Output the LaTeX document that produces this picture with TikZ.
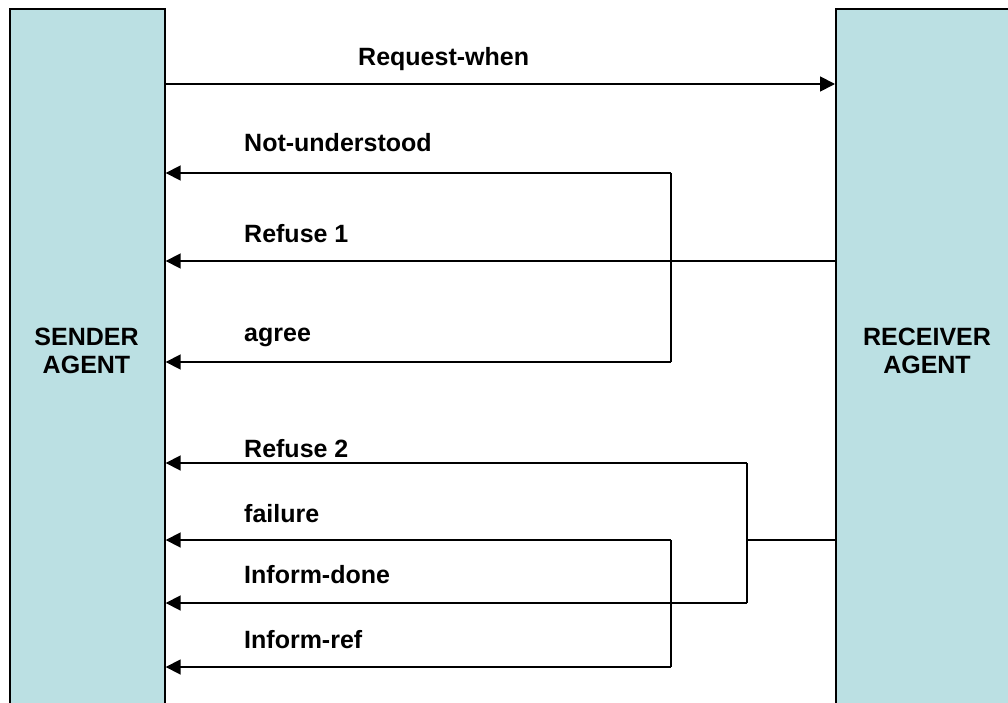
\documentclass[tikz,border=0pt]{standalone}
\usepackage{fontspec}
\setmainfont{Liberation Sans}
\usetikzlibrary{arrows.meta}
\definecolor{agentfill}{RGB}{187,224,227}
\begin{document}
\begin{tikzpicture}[x=1pt,y=-1pt,
  agent/.style={draw=black,fill=agentfill,line width=1.7pt,rectangle,inner sep=0pt,anchor=north west},
  agenttext/.style={font=\fontsize{25}{28}\selectfont\bfseries,align=center,inner sep=0pt},
  lbl/.style={font=\fontsize{25}{30}\selectfont\bfseries,anchor=base west,inner sep=0pt},
  wire/.style={line width=1.8pt,draw=black},
  msg/.style={wire,-{Triangle[length=15pt,width=15pt]}}]
\useasboundingbox (0,0) rectangle (1008,703);
\clip (0,0) rectangle (1008,703);
\node[agent,minimum width=155pt,minimum height=760pt] (S) at (9,8) {};
\node[agent,minimum width=185pt,minimum height=760pt] (R) at (835,8) {};
\node[agenttext] (Slbl) at (86.5,351) {SENDER\\AGENT};
\node[agenttext] (Rlbl) at (927,351) {RECEIVER\\AGENT};
% junction points
\coordinate (rq) at (0,84);
\coordinate (nu) at (671,173);
\coordinate (r1) at (0,261);
\coordinate (ag) at (671,362);
\coordinate (r2) at (747,463);
\coordinate (j2) at (747,540);
\coordinate (fa) at (671,540);
\coordinate (id) at (747,603);
\coordinate (ir) at (671,667);
% connectors
\draw[msg] (S.east |- rq) -- (R.west |- rq);
\draw[wire] (nu) -- (ag);
\draw[msg] (nu) -- (S.east |- nu);
\draw[msg] (R.west |- r1) -- (S.east |- r1);
\draw[msg] (ag) -- (S.east |- ag);
\draw[wire] (R.west |- j2) -- (j2);
\draw[wire] (r2) -- (id);
\draw[msg] (r2) -- (S.east |- r2);
\draw[wire] (fa) -- (ir);
\draw[msg] (fa) -- (S.east |- fa);
\draw[msg] (id) -- (S.east |- id);
\draw[msg] (ir) -- (S.east |- ir);
% labels
\node[lbl] (l1) at (358,66) {Request-when};
\node[lbl] (l2) at (244,152) {Not-understood};
\node[lbl] (l3) at (244,243) {Refuse 1};
\node[lbl] (l4) at (244,341) {agree};
\node[lbl] (l5) at (244,457) {Refuse 2};
\node[lbl] (l6) at (244,522) {failure};
\node[lbl] (l7) at (244,583) {Inform-done};
\node[lbl] (l8) at (244,648) {Inform-ref};
\end{tikzpicture}
\end{document}
